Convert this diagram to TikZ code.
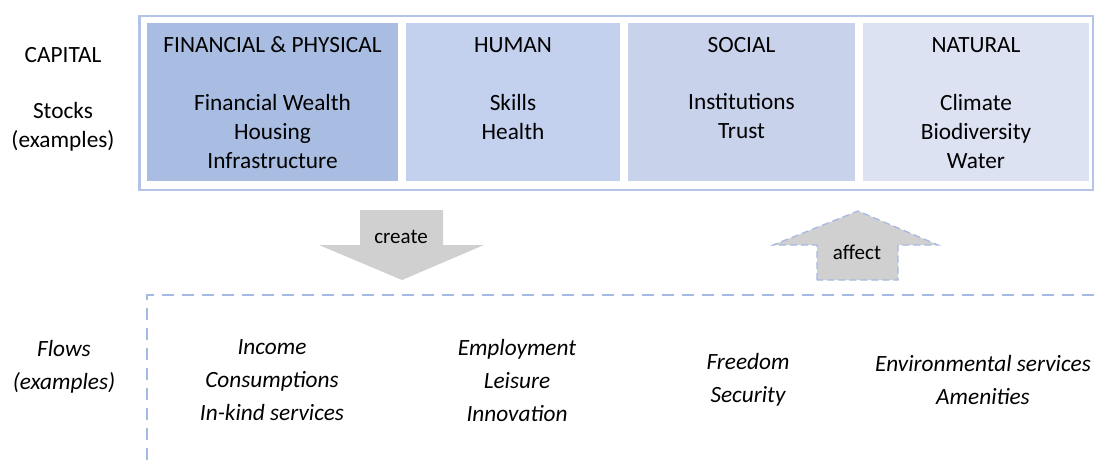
\documentclass[tikz,border=0pt]{standalone}
\usepackage{fontspec}
\setmainfont{Carlito}
\usetikzlibrary{positioning}

\definecolor{frameblue}{HTML}{B4C4E8}
\definecolor{finblue}{HTML}{A9BCE1}
\definecolor{humblue}{HTML}{C4D1EE}
\definecolor{socblue}{HTML}{C9D2EB}
\definecolor{natblue}{HTML}{DCE2F2}
\definecolor{dashblue}{HTML}{A6B8E4}
\definecolor{arrowgray}{HTML}{D0D0D0}

\begin{document}
\begin{tikzpicture}[x=1pt,y=-1pt,
    capbox/.style={minimum height=158pt,inner sep=0pt},
    stocktxt/.style={font=\fontsize{23.3}{29}\selectfont,align=center},
    flowtxt/.style={font=\fontsize{23.3}{33}\selectfont\itshape,align=center},
    arrowtxt/.style={font=\fontsize{21}{25}\selectfont}]
        \useasboundingbox(0,0)rectangle(1096,463);
        \clip(0,0)rectangle(1096,463);

        \draw[frameblue,line width=2.5pt](139.5,16)rectangle(1093,190);
        \node[capbox,fill=finblue,minimum width=251pt](fin)at(272.5,102){};
        \node[capbox,fill=humblue,minimum width=214pt](hum)at(513,102){};
        \node[capbox,fill=socblue,minimum width=227pt](soc)at(741.5,102){};
        \node[capbox,fill=natblue,minimum width=226pt](nat)at(976,102){};

        \node[stocktxt](capital)at(63,55){CAPITAL};
        \node[stocktxt](stocks)at(63,127){Stocks\\(examples)};

        \node[stocktxt](finhead)at(272.5,45){FINANCIAL \& PHYSICAL};
        \node[stocktxt](humhead)at(513,45){HUMAN};
        \node[stocktxt](sochead)at(741.5,45){SOCIAL};
        \node[stocktxt](nathead)at(976,45){NATURAL};
        \node[stocktxt](finlist)at(272.5,131){Financial Wealth\\Housing\\Infrastructure};
        \node[stocktxt](humlist)at(513,116.5){Skills\\Health};
        \node[stocktxt](soclist)at(741.5,116.5){Institutions\\Trust};
        \node[stocktxt](natlist)at(976,131){Climate\\Biodiversity\\Water};

        \fill[arrowgray](360,210)--(443,210)--(443,245)--(484,245)--(402,280)--(319,245)--(360,245)--cycle;
        \node[arrowtxt](create)at(401,237){create};
        \draw[dashblue,fill=arrowgray,line width=1.3pt,dash pattern=on 7pt off 4pt]
            (817,280)--(817,245)--(773,245)--(858,211)--(938,245)--(898,245)--(898,280)--cycle;
        \node[arrowtxt](affect)at(857,252){affect};

        \draw[dashblue,line width=2.5pt,dash pattern=on 12pt off 8pt](147,480)--(147,295)--(1120,295);

        \node[flowtxt](flows)at(64,367){Flows\\(examples)};
        \node[flowtxt](finflow)at(272,380){Income\\Consumptions\\In-kind services};
        \node[flowtxt](humflow)at(517,380){Employment\\Leisure\\Innovation};
        \node[flowtxt](socflow)at(748,379.5){Freedom\\Security};
        \node[flowtxt](natflow)at(983,379.5){Environmental services\\Amenities};
    \end{tikzpicture}
\end{document}
